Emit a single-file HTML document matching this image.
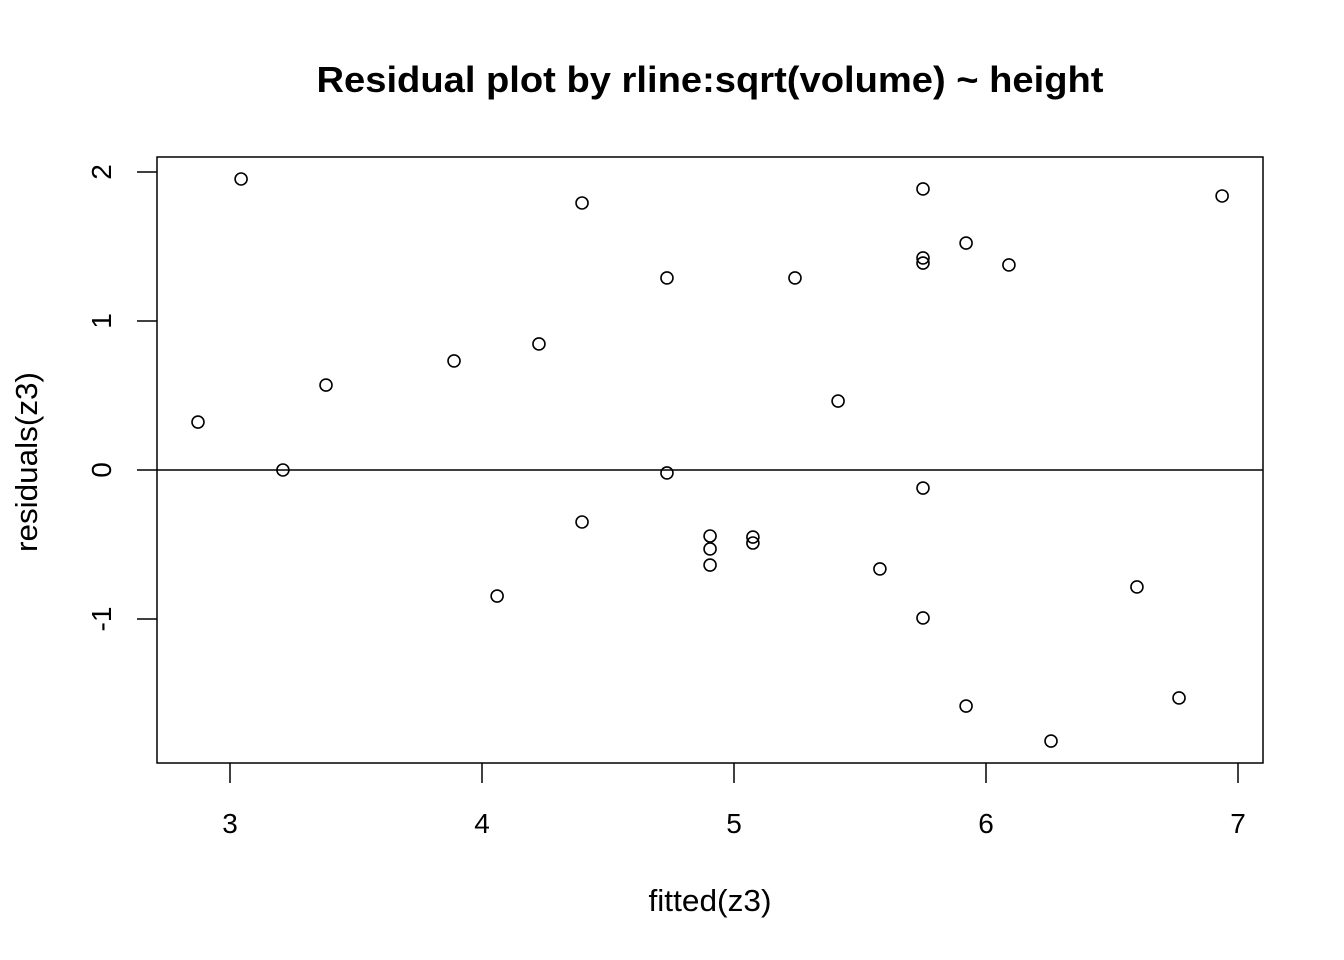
<!DOCTYPE html>
<html><head><meta charset="utf-8"><style>
html,body{margin:0;padding:0;background:#fff;}
svg{display:block;font-family:"Liberation Sans",Arial,sans-serif;}
</style></head><body>
<svg id="chart" width="1344" height="960">
<text x="710" y="92" text-anchor="middle" font-size="36" font-weight="bold" textLength="787" lengthAdjust="spacingAndGlyphs">Residual plot by rline:sqrt(volume) ~ height</text>
<rect x="157" y="157" width="1106" height="606" fill="none" stroke="#000" stroke-width="1.5"/>
<text x="710" y="911" text-anchor="middle" font-size="31" textLength="123" lengthAdjust="spacingAndGlyphs">fitted(z3)</text>
<text transform="translate(37,462) rotate(-90)" text-anchor="middle" font-size="31" textLength="180" lengthAdjust="spacingAndGlyphs">residuals(z3)</text>
<g id="xaxis"></g>
<g id="yaxis"></g>
<g id="points"></g>
</svg>
<script>
const xTicks=[3,4,5,6,7];
const yTicks=[-1,0,1,2];
const fittedVals=[2.873,3.044,3.210,3.381,3.889,4.060,4.226,4.397,4.397,4.734,4.734,4.905,4.905,4.905,5.075,5.075,5.242,5.413,5.579,5.750,5.750,5.750,5.750,5.750,5.921,5.921,6.091,6.258,6.599,6.766,6.937];
const residVals=[0.322,1.953,0,0.570,0.732,-0.846,0.846,1.792,-0.349,1.289,-0.020,-0.443,-0.530,-0.638,-0.450,-0.490,1.289,0.463,-0.664,1.886,1.423,1.389,-0.121,-0.993,1.523,-1.584,1.376,-1.819,-0.785,-1.530,1.839];
const NS="http://www.w3.org/2000/svg";
const sx=v=>230+(v-3)*252;
const sy=v=>470-v*149;
function mk(tag,attrs,parent){const e=document.createElementNS(NS,tag);for(const k in attrs)e.setAttribute(k,attrs[k]);parent.appendChild(e);return e;}
const xa=document.getElementById('xaxis'),ya=document.getElementById('yaxis'),pg=document.getElementById('points');
xTicks.forEach(t=>{
 const l=mk('line',{x1:sx(t),x2:sx(t),y1:763,y2:783,stroke:'#000','stroke-width':1.5},xa);
 
 
 const tx=mk('text',{x:sx(t),y:833,'text-anchor':'middle','font-size':28},xa);tx.textContent=t;
 
 
});
yTicks.forEach(t=>{
 const l=mk('line',{x1:137,x2:157,y1:sy(t),y2:sy(t),stroke:'#000','stroke-width':1.5},ya);
 
 
 const tx=mk('text',{transform:`translate(111,${sy(t)}) rotate(-90)`,'text-anchor':'middle','font-size':28},ya);tx.textContent=t;
 
 
});
const zl=mk('line',{x1:157,x2:1263,y1:sy(0),y2:sy(0),stroke:'#000','stroke-width':1.5},pg);


fittedVals.forEach((f,i)=>{
 const c=mk('circle',{cx:sx(f),cy:sy(residVals[i]),r:6,fill:'none',stroke:'#000','stroke-width':1.6},pg);
 
 
});
</script>
</body></html>
